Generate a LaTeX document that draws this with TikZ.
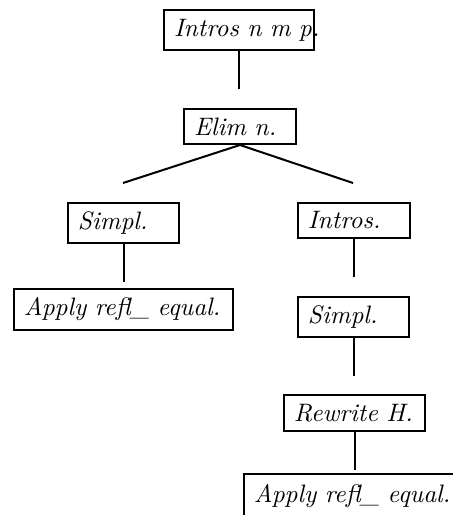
\documentclass[tikz,border=0pt]{standalone}
\usepackage{tikz}
\usetikzlibrary{shapes}

\begin{document}
\begin{tikzpicture}[x=0.4pt, y=-0.4pt, line width=0.8pt,
		tac/.style={rectangle,draw=black,fill=white,anchor=north west,align=left,
			font=\fontsize{10.1pt}{12pt}\itshape,inner xsep=4pt,inner ysep=0pt}]
		\useasboundingbox (0,0) rectangle (453,515);
		\node[tac, text width=52pt, minimum height=16pt] (A) at (163, 9) {Intros~n~m~p.};
		\node[tac, text width=36.8pt, minimum height=14pt] (B) at (183, 108) {Elim~n.};
		\node[tac, text width=36.4pt, minimum height=16pt] (C) at (67, 202) {Simpl.};
		\node[tac, text width=79.6pt, minimum height=16.4pt] (D) at (13, 288) {Apply~refl\_~equal.};
		\node[tac, text width=36.8pt, minimum height=14pt] (E) at (297, 202) {Intros.};
		\node[tac, text width=36.4pt, minimum height=16pt] (F) at (297, 296) {Simpl.};
		\node[tac, text width=48.4pt, minimum height=14.4pt] (G) at (283, 394) {Rewrite~H.};
		\node[tac, text width=79.6pt, minimum height=17.6pt] (H) at (243, 473) {Apply~refl\_~equal.};
		% loose ends of the branches
		\coordinate (a1) at (A.south |- 0, 89);
		\coordinate (b1) at (123, 183);
		\coordinate (b2) at (353, 183);
		\coordinate (c1) at (C.south |- 0, 282);
		\coordinate (e1) at (E.south |- 0, 277);
		\coordinate (f1) at (F.south |- 0, 376);
		\coordinate (g1) at (G.south |- 0, 470);
		\draw (A.south) -- (a1);
		\draw (B.south) -- (b1);
		\draw (B.south) -- (b2);
		\draw (C.south) -- (c1);
		\draw (E.south) -- (e1);
		\draw (F.south) -- (f1);
		\draw (G.south) -- (g1);
	\end{tikzpicture}
\end{document}
